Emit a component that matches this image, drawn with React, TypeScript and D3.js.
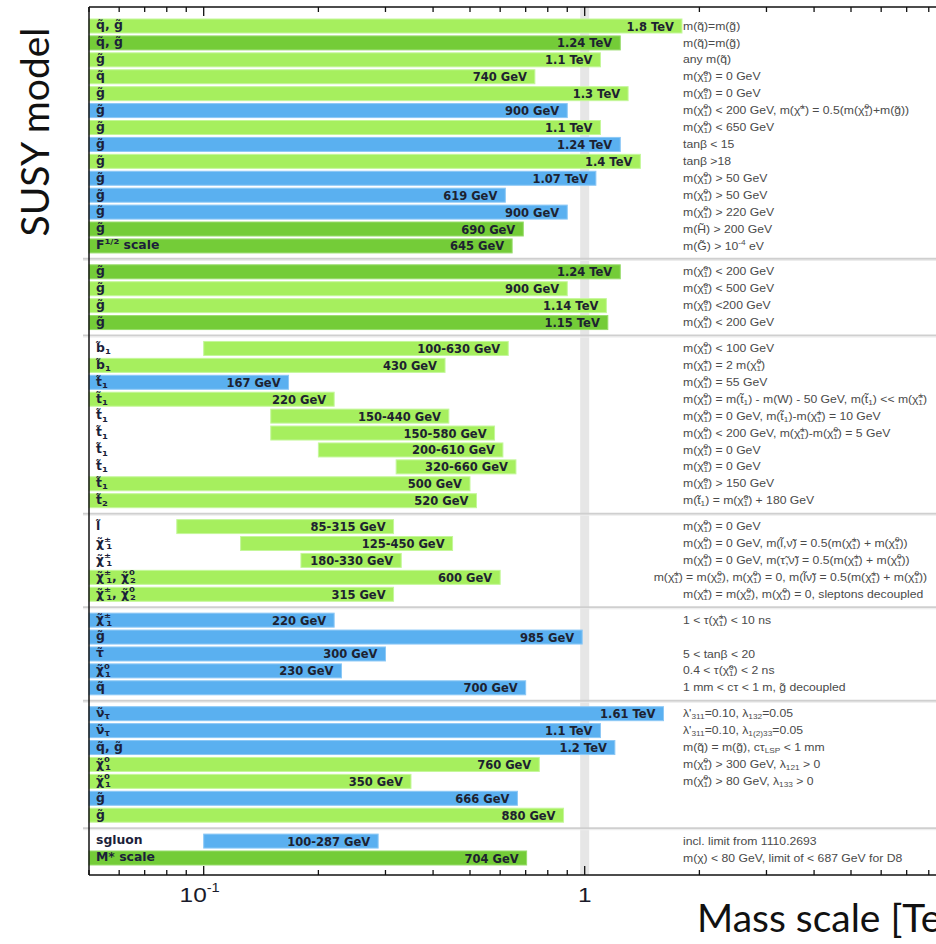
import React from 'react';
import * as d3 from 'd3';

// Combining tilde used for superpartner symbols
const T = '\u0303';
const X0 = `χ${T}^{0}_{1}`;
const XPM = `χ${T}^{±}_{1}`;
const X02 = `χ${T}^{0}_{2}`;

// Number of rows in each analysis block, top to bottom
const groupSizes = [14, 4, 10, 5, 5, 7, 2];

const models = [
  `q${T}, g${T}`, `q${T}, g${T}`, `g${T}`, `q${T}`, `g${T}`, `g${T}`, `g${T}`, `g${T}`, `g${T}`, `g${T}`, `g${T}`, `g${T}`, `g${T}`, 'F^{1/2} scale',
  `g${T}`, `g${T}`, `g${T}`, `g${T}`,
  `b${T}_{1}`, `b${T}_{1}`, `t${T}_{1}`, `t${T}_{1}`, `t${T}_{1}`, `t${T}_{1}`, `t${T}_{1}`, `t${T}_{1}`, `t${T}_{1}`, `t${T}_{2}`,
  `l${T}`, XPM, XPM, `${XPM}, ${X02}`, `${XPM}, ${X02}`,
  XPM, `g${T}`, `τ${T}`, X0, `q${T}`,
  `ν${T}_{τ}`, `ν${T}_{τ}`, `q${T}, g${T}`, X0, X0, `g${T}`, `g${T}`,
  'sgluon', 'M* scale',
];

// Lower edge of excluded range in TeV (null: open from the axis minimum)
const lower: (number | null)[] = [
  null, null, null, null, null, null, null, null, null, null, null, null, null, null,
  null, null, null, null,
  0.1, null, null, null, 0.15, 0.15, 0.2, 0.32, null, null,
  0.085, 0.125, 0.18, null, null,
  null, null, null, null, null,
  null, null, null, null, null, null, null,
  0.1, null,
];

// Upper mass limit in TeV
const upper = [
  1.8, 1.24, 1.1, 0.74, 1.3, 0.9, 1.1, 1.24, 1.4, 1.07, 0.619, 0.9, 0.69, 0.645,
  1.24, 0.9, 1.14, 1.15,
  0.63, 0.43, 0.167, 0.22, 0.44, 0.58, 0.61, 0.66, 0.5, 0.52,
  0.315, 0.45, 0.33, 0.6, 0.315,
  0.22, 0.985, 0.3, 0.23, 0.7,
  1.61, 1.1, 1.2, 0.76, 0.35, 0.666, 0.88,
  0.287, 0.704,
];

const valueLabels = [
  '1.8 TeV', '1.24 TeV', '1.1 TeV', '740 GeV', '1.3 TeV', '900 GeV', '1.1 TeV', '1.24 TeV', '1.4 TeV', '1.07 TeV', '619 GeV', '900 GeV', '690 GeV', '645 GeV',
  '1.24 TeV', '900 GeV', '1.14 TeV', '1.15 TeV',
  '100-630 GeV', '430 GeV', '167 GeV', '220 GeV', '150-440 GeV', '150-580 GeV', '200-610 GeV', '320-660 GeV', '500 GeV', '520 GeV',
  '85-315 GeV', '125-450 GeV', '180-330 GeV', '600 GeV', '315 GeV',
  '220 GeV', '985 GeV', '300 GeV', '230 GeV', '700 GeV',
  '1.61 TeV', '1.1 TeV', '1.2 TeV', '760 GeV', '350 GeV', '666 GeV', '880 GeV',
  '100-287 GeV', '704 GeV',
];

// L: 2011 data, D: 2012 data, B: other (long-lived / RPV)
const dataset = [
  'L', 'D', 'L', 'L', 'L', 'B', 'L', 'B', 'L', 'B', 'B', 'B', 'D', 'D',
  'D', 'L', 'L', 'D',
  'L', 'L', 'B', 'L', 'L', 'L', 'L', 'L', 'L', 'L',
  'L', 'L', 'L', 'L', 'L',
  'B', 'B', 'B', 'B', 'B',
  'B', 'B', 'B', 'L', 'L', 'B', 'L',
  'B', 'D',
];

const conditions = [
  `m(q${T})=m(g${T})`, `m(q${T})=m(g${T})`, `any m(q${T})`, `m(${X0}) = 0 GeV`, `m(${X0}) = 0 GeV`,
  `m(${X0}) < 200 GeV, m(χ${T}^{±}) = 0.5(m(${X0})+m(g${T}))`, `m(${X0}) < 650 GeV`, 'tanβ < 15', 'tanβ >18',
  `m(${X0}) > 50 GeV`, `m(${X0}) > 50 GeV`, `m(${X0}) > 220 GeV`, `m(H${T}) > 200 GeV`, `m(G${T}) > 10^{-4} eV`,
  `m(${X0}) < 200 GeV`, `m(${X0}) < 500 GeV`, `m(${X0}) <200 GeV`, `m(${X0}) < 200 GeV`,
  `m(${X0}) < 100 GeV`, `m(${XPM}) = 2 m(${X0})`, `m(${X0}) = 55 GeV`,
  `m(${X0})  = m(t${T}_{1}) - m(W) - 50 GeV, m(t${T}_{1}) << m(${XPM})`,
  `m(${X0}) = 0 GeV, m(t${T}_{1})-m(${XPM}) = 10 GeV`, `m(${X0}) < 200 GeV, m(${XPM})-m(${X0}) = 5 GeV`,
  `m(${X0}) = 0 GeV`, `m(${X0}) = 0 GeV`, `m(${X0}) > 150 GeV`, `m(t${T}_{1}) = m(${X0}) + 180 GeV`,
  `m(${X0}) = 0 GeV`, `m(${X0}) = 0 GeV, m(l${T},ν${T}) = 0.5(m(${XPM}) + m(${X0}))`,
  `m(${X0}) = 0 GeV, m(τ${T},ν${T}) = 0.5(m(${XPM}) + m(${X0}))`,
  `m(${XPM}) = m(${X02}), m(${X0}) = 0, m(l${T}ν${T}) = 0.5(m(${XPM}) + m(${X0}))`,
  `m(${XPM}) = m(${X02}), m(${X0}) = 0, sleptons decoupled`,
  `1 < τ(${XPM}) < 10 ns`, '', '5 < tanβ < 20', `0.4 < τ(${X0}) < 2 ns`, `1 mm < cτ < 1 m, g${T} decoupled`,
  "λ'_{311}=0.10, λ_{132}=0.05", "λ'_{311}=0.10, λ_{1(2)33}=0.05", `m(q${T}) = m(g${T}), cτ_{LSP} < 1 mm`,
  `m(${X0}) > 300 GeV, λ_{121} > 0`, `m(${X0}) > 80 GeV, λ_{133} > 0`, '', '',
  'incl. limit from 1110.2693', 'm(χ) < 80 GeV, limit of < 687 GeV for D8',
];

// Rows whose condition text is right-aligned instead of sitting in the column
const wideConditionRows = [31];

const fills: Record<string, string> = { L: '#a6ef5e', D: '#74cc38', B: '#5ab0f0' };
const edges: Record<string, string> = { L: '#c4f79a', D: '#98dc6c', B: '#8cc8f6' };

type Seg = { t: string; k: 'n' | 'sub' | 'sup' };

// Tiny markup: _{..}/^{..} for sub/superscripts
function parseRich(s: string): Seg[] {
  const out: Seg[] = [];
  let buf = '';
  let i = 0;
  while (i < s.length) {
    const c = s[i];
    if ((c === '_' || c === '^') && s[i + 1] === '{') {
      if (buf) { out.push({ t: buf, k: 'n' }); buf = ''; }
      const end = s.indexOf('}', i + 2);
      out.push({ t: s.slice(i + 2, end), k: c === '_' ? 'sub' : 'sup' });
      i = end + 1;
    } else {
      buf += c;
      i++;
    }
  }
  if (buf) out.push({ t: buf, k: 'n' });
  return out;
}

function RichText(props: {
  x: number; y: number; text: string; size: number; fill: string; weight?: string | number;
  family: string; anchor?: 'start' | 'end' | 'middle'; sx?: number;
}) {
  const { x, y, text, size, fill, weight, family, anchor, sx } = props;
  const segs = parseRich(text);
  const small = size * 0.68;
  const supUp = size * 0.38;
  const subDown = size * 0.28;
  let offset = 0;
  const spans: React.ReactNode[] = [];
  segs.forEach((sg, i) => {
    const prev = segs[i - 1];
    if (sg.k === 'n') {
      spans.push(<tspan key={i} dy={-offset}>{sg.t}</tspan>);
      offset = 0;
    } else if (sg.k === 'sup') {
      spans.push(<tspan key={i} dy={-supUp - offset} fontSize={small}>{sg.t}</tspan>);
      offset = -supUp;
    } else {
      const stacked = prev && prev.k === 'sup';
      const back = stacked ? -prev.t.length * small * 0.58 : 0;
      spans.push(<tspan key={i} dx={back} dy={subDown - offset} fontSize={small}>{sg.t}</tspan>);
      offset = subDown;
    }
  });
  return (
    <text x={0} y={0} transform={`translate(${x},${y}) scale(${sx || 1},1)`} fontSize={size} fill={fill}
      fontWeight={weight} fontFamily={family} textAnchor={anchor || 'start'} dominantBaseline="central">
      {spans}
    </text>
  );
}

export default function App() {
  const W = 936;
  const H = 944;
  const xMin = 0.05;
  const xMax = 10;
  const left = 89;
  const decade = 381;
  const top = 7;
  const bottom = 875;

  const x = d3.scaleLog().domain([xMin, xMax]).range([left, left + decade * Math.log10(xMax / xMin)]);

  // slot index per row, with half-row gaps between blocks
  const gap = 0.53;
  const slots: number[] = [];
  const groupIdx: number[] = [];
  groupSizes.forEach((n, g) => {
    for (let k = 0; k < n; k++) {
      slots.push(slots.length + g * gap);
      groupIdx.push(g);
    }
  });
  const nRows = slots.length;
  const y = d3.scaleLinear().domain([0, slots[nRows - 1]]).range([26, 858]);
  const barH = 14;

  const separators: number[] = [];
  for (let i = 1; i < nRows; i++) {
    if (groupIdx[i] !== groupIdx[i - 1]) separators.push((y(slots[i]) + y(slots[i - 1])) / 2);
  }

  const ticks = x.ticks();
  const isMajor = (t: number) => Math.abs(Math.log10(t) - Math.round(Math.log10(t))) < 1e-9;
  const majors = ticks.filter((t) => isMajor(t) && x(t) < W - 20);

  const sans = '"Liberation Sans", Arial, sans-serif';
  const bold = '"DejaVu Sans", sans-serif';
  const titleFont = 'Lato, "Open Sans", sans-serif';
  const condX = 683;
  const stretch = 1.22;

  return (
    <svg width={W} height={H} viewBox={`0 0 ${W} ${H}`}
      style={{ position: 'absolute', left: 0, top: 0, background: '#fff' }}>
      <rect x={0} y={0} width={W} height={H} fill="#fff" />

      {/* reference band at 1 TeV */}
      <rect x={x(1) - 4.5} y={top} width={9} height={bottom - top} fill="#e6e6e6" />

      {/* block separators */}
      {separators.map((sy, i) => (
        <g key={i}>
          <line x1={left - 6} x2={W} y1={sy} y2={sy} stroke="#cfcfcf" strokeWidth={2} />
          <line x1={left - 6} x2={W} y1={sy + 1.6} y2={sy + 1.6} stroke="#ececec" strokeWidth={1} />
        </g>
      ))}

      {/* exclusion bars */}
      {upper.map((u, i) => {
        const lo = lower[i] == null ? xMin : (lower[i] as number);
        const x0 = x(lo);
        const x1 = x(u);
        const cy = y(slots[i]);
        const k = dataset[i];
        return (
          <g key={i}>
            <rect x={x0} y={cy - barH / 2} width={x1 - x0} height={barH} fill={fills[k]}
              stroke={edges[k]} strokeWidth={1} />
            <text x={x1 - 8} y={cy + 0.5} textAnchor="end" dominantBaseline="central"
              fontFamily={bold} fontWeight="bold" fontSize={11.5} fill="#1d2230">
              {valueLabels[i]}
            </text>
          </g>
        );
      })}

      {/* model labels */}
      {models.map((m, i) => (
        <RichText key={i} x={96} y={y(slots[i]) - 0.5} text={m} size={11.5} fill="#1c1f3a"
          weight="bold" family={bold} sx={1.08} />
      ))}

      {/* conditions */}
      {conditions.map((c, i) =>
        c ? (
          wideConditionRows.includes(i) ? (
            <RichText key={i} x={927} y={y(slots[i])} text={c} size={10} fill="#4a4a4a"
              family={sans} anchor="end" sx={stretch} />
          ) : (
            <RichText key={i} x={condX} y={y(slots[i])} text={c} size={10} fill="#4a4a4a"
              family={sans} sx={stretch} />
          )
        ) : null
      )}

      {/* frame */}
      <line x1={left} x2={W} y1={top} y2={top} stroke="#111" strokeWidth={1.5} />
      <line x1={left} x2={W} y1={bottom} y2={bottom} stroke="#111" strokeWidth={1.5} />
      <line x1={left} x2={left} y1={top} y2={bottom} stroke="#111" strokeWidth={1.5} />

      {/* ticks */}
      {ticks.map((t, i) => {
        const len = isMajor(t) ? 9 : 5;
        const tx = x(t);
        return (
          <g key={i}>
            <line x1={tx} x2={tx} y1={top} y2={top + len} stroke="#111" strokeWidth={1.3} />
            <line x1={tx} x2={tx} y1={bottom} y2={bottom - len} stroke="#111" strokeWidth={1.3} />
          </g>
        );
      })}

      {/* tick labels */}
      {majors.map((t, i) => {
        const e = Math.round(Math.log10(t));
        const tx = x(t);
        if (e === 0) {
          return (
            <text key={i} transform={`translate(${tx},902) scale(${stretch},1)`} textAnchor="middle"
              fontFamily={sans} fontSize={20} fill="#1a1a2a">1</text>
          );
        }
        return (
          <text key={i} transform={`translate(${tx - 4},902) scale(${stretch},1)`} textAnchor="middle"
            fontFamily={sans} fontSize={20} fill="#1a1a2a">
            10<tspan fontSize={12} dy={-10}>{e}</tspan>
          </text>
        );
      })}

      {/* axis titles */}
      <text x={697} y={932} fontFamily={titleFont} fontSize={39} fill="#111">Mass scale [TeV]</text>
      <text transform="translate(49,132) rotate(-90)" textAnchor="middle" fontFamily={titleFont}
        fontSize={39} fill="#111">SUSY model</text>
    </svg>
  );
}
